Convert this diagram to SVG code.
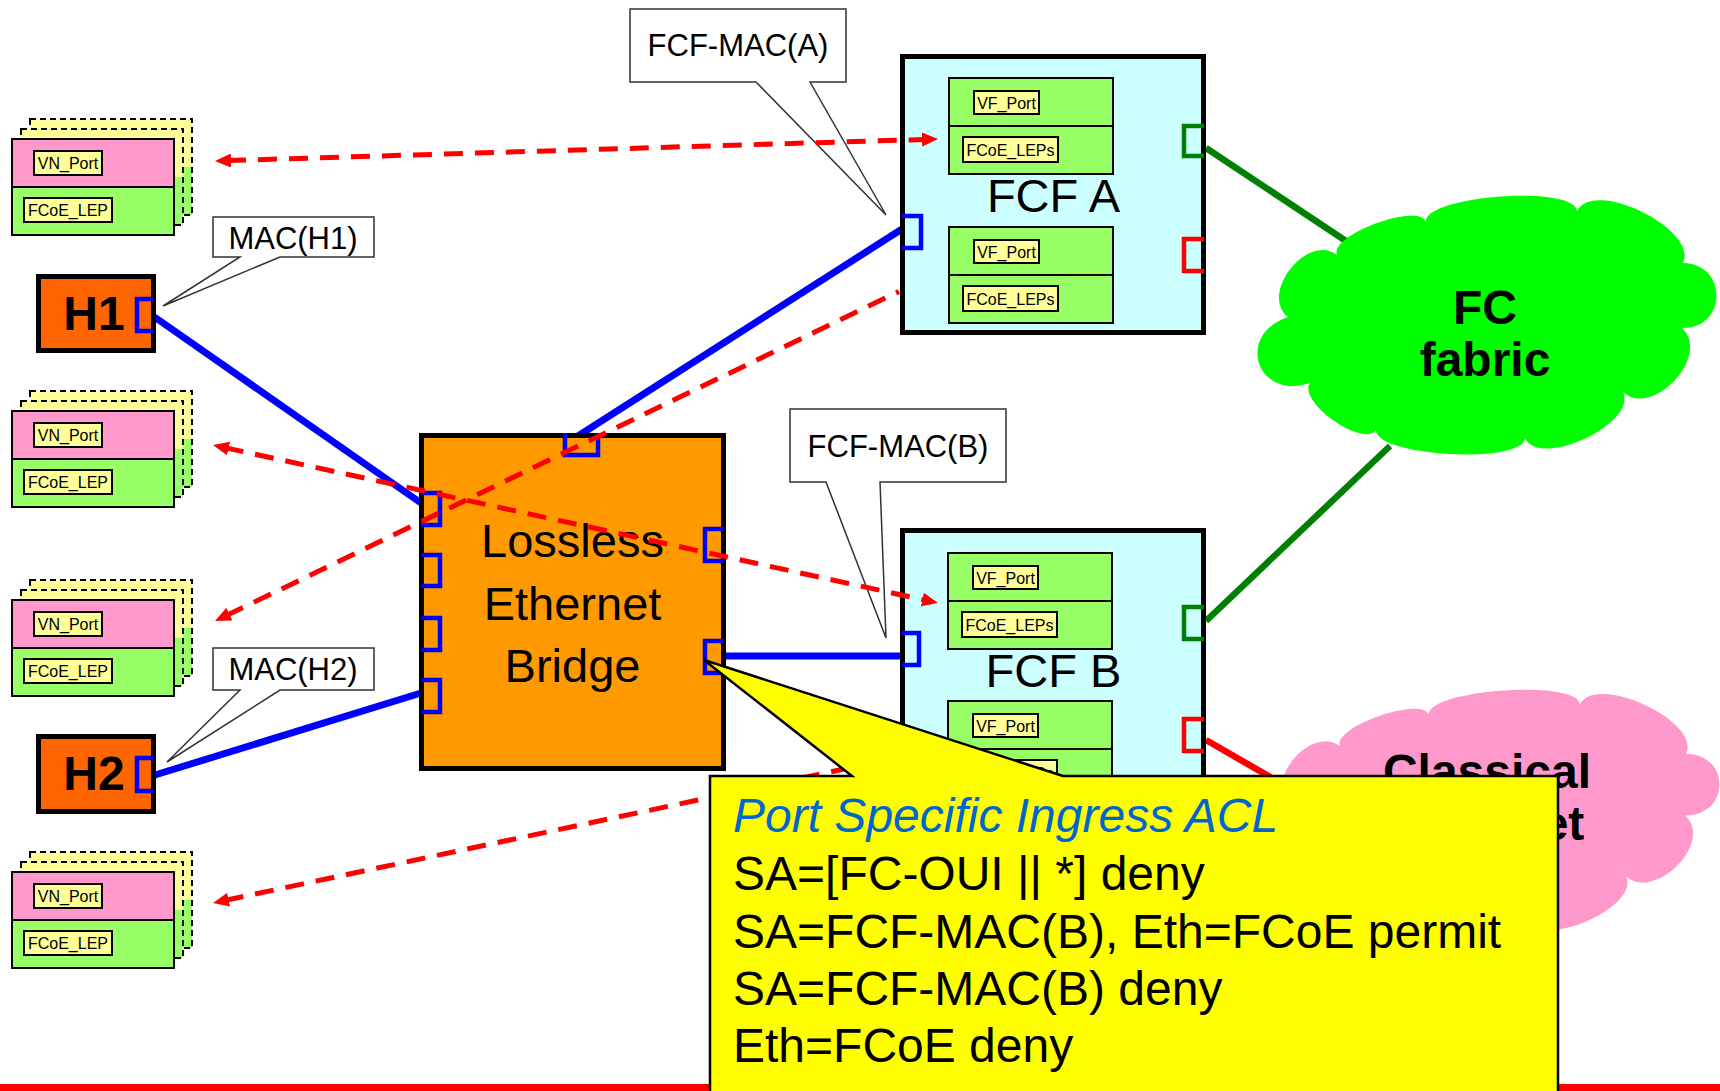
<svg xmlns="http://www.w3.org/2000/svg" width="1720" height="1091" viewBox="0 0 1720 1091">
  <style>
    text { font-family: "Liberation Sans", Arial, sans-serif; fill: #000; }
    .pink { fill: #FF99CC; }
    .green { fill: #99FF66; }
    .pale { fill: #FFFF99; }
    .frame { fill: none; stroke: #000; stroke-width: 2; }
    .ghost { fill: none; stroke: #000; stroke-width: 2; stroke-dasharray: 6 4; }
    .tag { fill: #FFFF99; stroke: #000; stroke-width: 2; }
    .tag-text { font-size: 16px; text-anchor: middle; }
    .card { fill: #99FF66; stroke: #000; stroke-width: 2; }
    .host { fill: #FF6600; stroke: #000; stroke-width: 5; }
    .host-text { font-size: 48px; font-weight: bold; text-anchor: middle; }
    .bridge { fill: #FF9900; stroke: #000; stroke-width: 5; }
    .fcf { fill: #CCFFFF; stroke: #000; stroke-width: 5; }
    .big-text { font-size: 47px; text-anchor: middle; }
    .port { fill: none; stroke-width: 4.5; }
    .port-blue { stroke: #0000FF; }
    .port-green { stroke: #008000; }
    .port-red { stroke: #FF0000; }
    .bubble { fill: #FFFFFF; stroke: #333; stroke-width: 1.5; }
    .bubble-text { font-size: 31px; text-anchor: middle; }
    .eth { stroke: #0000FF; stroke-width: 7; fill: none; }
    .fc { stroke: #008000; stroke-width: 6.5; fill: none; }
    .ce { stroke: #FF0000; stroke-width: 6.5; fill: none; }
    .flow { stroke: #FF0000; stroke-width: 5; fill: none; stroke-dasharray: 19 12; }
    .cloud-text { font-size: 48px; font-weight: bold; text-anchor: middle; }
    .acl { fill: #FFFF00; stroke: #000; stroke-width: 2.5; }
    .acl-text { font-size: 48px; }
    .acl-title { font-size: 48px; font-style: italic; fill: #0066CC; }
  </style>
  <defs>
    <marker id="arrow" viewBox="0 0 16 14" refX="4" refY="7" markerWidth="16" markerHeight="14" markerUnits="userSpaceOnUse" orient="auto-start-reverse">
      <path d="M0,0 L16,7 L0,14 Z" fill="#FF0000"/>
    </marker>
    <path id="cloudShape" d="M1337,255 C1329.5,235 1418.5,202 1426,222 C1424,195.4 1575,184.4 1577,211 C1593.4,177.4 1699.4,229.4 1683,263 C1728.3,263.7 1727.3,328.7 1682,328 C1711.6,355.2 1652.6,419.2 1623,392 C1637.9,423.6 1539.9,469.6 1525,438 C1523.7,464.7 1374.7,456.7 1376,430 C1362.8,448.4 1296.8,401.4 1310,383 C1256.8,400.9 1234.8,334.9 1288,317 C1258.7,293.9 1307.7,231.9 1337,255 Z"/>
  </defs>

  <rect x="0" y="0" width="1720" height="1091" fill="#FFFFFF"/>

  <!-- physical links (drawn beneath the nodes) -->
  <g id="links" class="connectors">
    <line class="eth" x1="153" y1="316" x2="421" y2="503"/>
    <line class="eth" x1="155" y1="775" x2="421" y2="693"/>
    <line class="eth" x1="578" y1="436" x2="902" y2="229"/>
    <line class="eth" x1="726" y1="656" x2="902" y2="656"/>
    <line class="fc" x1="1206" y1="148" x2="1352" y2="245"/>
    <line class="fc" x1="1206" y1="621" x2="1390" y2="446"/>
    <line class="ce" x1="1206" y1="740" x2="1310" y2="800"/>
  </g>

  <!-- ENode stacks -->
  <g id="enode-1" transform="translate(12,139)">
    <rect x="18" y="-20" width="162" height="48" class="pale"/>
    <rect x="18" y="28" width="162" height="48" class="green"/>
    <rect x="18" y="-20" width="162" height="96" class="ghost"/>
    <rect x="9" y="-10" width="162" height="48" class="pale"/>
    <rect x="9" y="38" width="162" height="48" class="green"/>
    <rect x="9" y="-10" width="162" height="96" class="ghost"/>
    <rect x="0" y="0" width="162" height="48" class="pink"/>
    <rect x="0" y="48" width="162" height="48" class="green"/>
    <rect x="0" y="0" width="162" height="96" class="frame"/>
    <line x1="0" y1="48" x2="162" y2="48" class="frame"/>
    <rect x="22" y="12" width="68" height="24" class="tag"/>
    <text x="56" y="30" class="tag-text">VN_Port</text>
    <rect x="12" y="59" width="88" height="24" class="tag"/>
    <text x="56" y="77" class="tag-text">FCoE_LEP</text>
  </g>
  <g id="enode-2" transform="translate(12,411)">
    <rect x="18" y="-20" width="162" height="48" class="pale"/>
    <rect x="18" y="28" width="162" height="48" class="green"/>
    <rect x="18" y="-20" width="162" height="96" class="ghost"/>
    <rect x="9" y="-10" width="162" height="48" class="pale"/>
    <rect x="9" y="38" width="162" height="48" class="green"/>
    <rect x="9" y="-10" width="162" height="96" class="ghost"/>
    <rect x="0" y="0" width="162" height="48" class="pink"/>
    <rect x="0" y="48" width="162" height="48" class="green"/>
    <rect x="0" y="0" width="162" height="96" class="frame"/>
    <line x1="0" y1="48" x2="162" y2="48" class="frame"/>
    <rect x="22" y="12" width="68" height="24" class="tag"/>
    <text x="56" y="30" class="tag-text">VN_Port</text>
    <rect x="12" y="59" width="88" height="24" class="tag"/>
    <text x="56" y="77" class="tag-text">FCoE_LEP</text>
  </g>
  <g id="enode-3" transform="translate(12,600)">
    <rect x="18" y="-20" width="162" height="48" class="pale"/>
    <rect x="18" y="28" width="162" height="48" class="green"/>
    <rect x="18" y="-20" width="162" height="96" class="ghost"/>
    <rect x="9" y="-10" width="162" height="48" class="pale"/>
    <rect x="9" y="38" width="162" height="48" class="green"/>
    <rect x="9" y="-10" width="162" height="96" class="ghost"/>
    <rect x="0" y="0" width="162" height="48" class="pink"/>
    <rect x="0" y="48" width="162" height="48" class="green"/>
    <rect x="0" y="0" width="162" height="96" class="frame"/>
    <line x1="0" y1="48" x2="162" y2="48" class="frame"/>
    <rect x="22" y="12" width="68" height="24" class="tag"/>
    <text x="56" y="30" class="tag-text">VN_Port</text>
    <rect x="12" y="59" width="88" height="24" class="tag"/>
    <text x="56" y="77" class="tag-text">FCoE_LEP</text>
  </g>
  <g id="enode-4" transform="translate(12,872)">
    <rect x="18" y="-20" width="162" height="48" class="pale"/>
    <rect x="18" y="28" width="162" height="48" class="green"/>
    <rect x="18" y="-20" width="162" height="96" class="ghost"/>
    <rect x="9" y="-10" width="162" height="48" class="pale"/>
    <rect x="9" y="38" width="162" height="48" class="green"/>
    <rect x="9" y="-10" width="162" height="96" class="ghost"/>
    <rect x="0" y="0" width="162" height="48" class="pink"/>
    <rect x="0" y="48" width="162" height="48" class="green"/>
    <rect x="0" y="0" width="162" height="96" class="frame"/>
    <line x1="0" y1="48" x2="162" y2="48" class="frame"/>
    <rect x="22" y="12" width="68" height="24" class="tag"/>
    <text x="56" y="30" class="tag-text">VN_Port</text>
    <rect x="12" y="59" width="88" height="24" class="tag"/>
    <text x="56" y="77" class="tag-text">FCoE_LEP</text>
  </g>

  <!-- Hosts -->
  <g id="host-h1">
    <rect x="38.5" y="276.5" width="115" height="74" class="host"/>
    <text x="94" y="330" class="host-text">H1</text>
    <path d="M153,299 H137 V331 H153" class="port port-blue"/>
  </g>
  <g id="host-h2">
    <rect x="38.5" y="736.5" width="115" height="75" class="host"/>
    <text x="94" y="790" class="host-text">H2</text>
    <path d="M153,758 H137 V791 H153" class="port port-blue"/>
  </g>

  <!-- MAC address call-outs -->
  <g id="label-mac-h1">
    <path d="M213,217 H374 V257 H280 L163,306 L240,257 H213 Z" class="bubble"/>
    <text x="293" y="249" class="bubble-text">MAC(H1)</text>
  </g>
  <g id="label-mac-h2">
    <path d="M213,648 H374 V690 H280 L167,762 L240,690 H213 Z" class="bubble"/>
    <text x="293" y="680" class="bubble-text">MAC(H2)</text>
  </g>

  <!-- Lossless Ethernet Bridge -->
  <g id="bridge">
    <rect x="421.5" y="435.5" width="302" height="333" class="bridge"/>
    <text x="572.5" y="557" class="big-text">Lossless</text>
    <text x="572.5" y="620" class="big-text">Ethernet</text>
    <text x="572.5" y="682" class="big-text">Bridge</text>
    <path d="M565,433 V455 H598 V433" class="port port-blue"/>
    <path d="M421,493 H440 V525 H421" class="port port-blue"/>
    <path d="M421,555 H440 V586 H421" class="port port-blue"/>
    <path d="M421,618 H440 V650 H421" class="port port-blue"/>
    <path d="M421,680 H440 V712 H421" class="port port-blue"/>
    <path d="M724,529 H705 V561 H724" class="port port-blue"/>
    <path d="M724,641 H705 V673 H724" class="port port-blue"/>
  </g>

  <!-- FCF A -->
  <g id="fcf-a">
    <rect x="902.5" y="56.5" width="301" height="276" class="fcf"/>
    <g transform="translate(949,78)">
      <rect x="0" y="0" width="164" height="96" class="card"/>
      <line x1="0" y1="48" x2="164" y2="48" class="frame"/>
      <rect x="25" y="13" width="65" height="23" class="tag"/>
      <text x="57.5" y="30.5" class="tag-text">VF_Port</text>
      <rect x="14" y="59" width="95" height="25" class="tag"/>
      <text x="61.5" y="77.5" class="tag-text">FCoE_LEPs</text>
    </g>
    <g transform="translate(949,227)">
      <rect x="0" y="0" width="164" height="96" class="card"/>
      <line x1="0" y1="48" x2="164" y2="48" class="frame"/>
      <rect x="25" y="13" width="65" height="23" class="tag"/>
      <text x="57.5" y="30.5" class="tag-text">VF_Port</text>
      <rect x="14" y="59" width="95" height="25" class="tag"/>
      <text x="61.5" y="77.5" class="tag-text">FCoE_LEPs</text>
    </g>
    <text x="1053.5" y="212" class="big-text">FCF A</text>
    <path d="M902,216 H921 V248 H902" class="port port-blue"/>
    <path d="M1204,126 H1184 V156 H1204" class="port port-green"/>
    <path d="M1204,239 H1184 V271 H1204" class="port port-red"/>
  </g>

  <!-- FCF B -->
  <g id="fcf-b">
    <rect x="902.5" y="530.5" width="301" height="276" class="fcf"/>
    <g transform="translate(948,553)">
      <rect x="0" y="0" width="164" height="96" class="card"/>
      <line x1="0" y1="48" x2="164" y2="48" class="frame"/>
      <rect x="25" y="13" width="65" height="23" class="tag"/>
      <text x="57.5" y="30.5" class="tag-text">VF_Port</text>
      <rect x="14" y="59" width="95" height="25" class="tag"/>
      <text x="61.5" y="77.5" class="tag-text">FCoE_LEPs</text>
    </g>
    <g transform="translate(948,701)">
      <rect x="0" y="0" width="164" height="96" class="card"/>
      <line x1="0" y1="48" x2="164" y2="48" class="frame"/>
      <rect x="25" y="13" width="65" height="23" class="tag"/>
      <text x="57.5" y="30.5" class="tag-text">VF_Port</text>
      <rect x="14" y="59" width="95" height="25" class="tag"/>
      <text x="61.5" y="77.5" class="tag-text">FCoE_LEPs</text>
    </g>
    <text x="1053.5" y="687" class="big-text">FCF B</text>
    <path d="M902,633 H919 V665 H902" class="port port-blue"/>
    <path d="M1204,607 H1184 V639 H1204" class="port port-green"/>
    <path d="M1204,719 H1184 V751 H1204" class="port port-red"/>
  </g>

  <!-- FCF MAC call-outs -->
  <g id="label-fcf-mac-a">
    <path d="M630,9 H846 V82 H810 L886,215 L756,82 H630 Z" class="bubble"/>
    <text x="738" y="56" class="bubble-text">FCF-MAC(A)</text>
  </g>
  <g id="label-fcf-mac-b">
    <path d="M790,409 H1006 V482 H880 L886,638 L826,482 H790 Z" class="bubble"/>
    <text x="898" y="457" class="bubble-text">FCF-MAC(B)</text>
  </g>

  <!-- Clouds -->
  <g id="cloud-fc">
    <use href="#cloudShape" fill="#00FF00"/>
    <text x="1485" y="324" class="cloud-text">FC</text>
    <text x="1485" y="376" class="cloud-text">fabric</text>
  </g>
  <g id="cloud-ethernet">
    <use href="#cloudShape" fill="#FF99CC" transform="translate(3,503.85) scale(1,0.95)"/>
    <text x="1487" y="788" class="cloud-text">Classical</text>
    <text x="1487" y="840" class="cloud-text">Ethernet</text>
  </g>

  <!-- FCoE virtual links (dashed) -->
  <g id="flows" class="connectors">
    <line class="flow" x1="227" y1="160.6" x2="926" y2="139.4" marker-start="url(#arrow)" marker-end="url(#arrow)"/>
    <line class="flow" x1="224.7" y1="447.6" x2="926.3" y2="600.4" marker-start="url(#arrow)" marker-end="url(#arrow)"/>
    <line class="flow" x1="225.8" y1="615.8" x2="899" y2="291.5" marker-start="url(#arrow)"/>
    <line class="flow" x1="224.7" y1="900.5" x2="905" y2="756" marker-start="url(#arrow)"/>
  </g>

  <!-- bottom rule -->
  <rect x="0" y="1084" width="1720" height="7" fill="#FF0000"/>

  <!-- Ingress ACL call-out -->
  <g id="acl-callout">
    <path d="M710,776 H852 L704,660 L1063,776 H1558 V1100 H710 Z" class="acl"/>
    <text x="733" y="832" class="acl-title">Port Specific Ingress ACL</text>
    <text x="733" y="890" class="acl-text">SA=[FC-OUI || *] deny</text>
    <text x="733" y="948" class="acl-text">SA=FCF-MAC(B), Eth=FCoE permit</text>
    <text x="733" y="1005" class="acl-text">SA=FCF-MAC(B) deny</text>
    <text x="733" y="1062" class="acl-text">Eth=FCoE deny</text>
  </g>
</svg>
